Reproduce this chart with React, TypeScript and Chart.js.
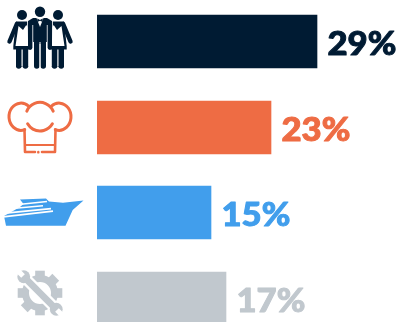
import React, { useEffect, useRef } from "react";
import { Chart, registerables } from "chart.js";

Chart.register(...registerables);

const categories = ["Service staff", "Chefs", "Cruise crew", "Maintenance"];
const shares = [29, 23, 15, 17];
const colors = ["#001B33", "#EE6C44", "#419EEC", "#C1C8CE"];
const suffix = "%";

type C = CanvasRenderingContext2D;

function poly(ctx: C, pts: number[][]) {
  ctx.beginPath();
  pts.forEach((p, i) => (i ? ctx.lineTo(p[0], p[1]) : ctx.moveTo(p[0], p[1])));
  ctx.closePath();
  ctx.fill();
}

function line(ctx: C, a: number[], b: number[], w: number) {
  ctx.lineWidth = w;
  ctx.beginPath();
  ctx.moveTo(a[0], a[1]);
  ctx.lineTo(b[0], b[1]);
  ctx.stroke();
}

function sideFigure(ctx: C, c: string, flip: boolean) {
  ctx.save();
  if (flip) {
    ctx.translate(80, 0);
    ctx.scale(-1, 1);
  }
  ctx.fillStyle = c;
  ctx.strokeStyle = c;
  ctx.lineCap = "round";
  ctx.beginPath();
  ctx.arc(22, 15, 5, 0, Math.PI * 2);
  ctx.fill();
  poly(ctx, [[16, 21.5], [28, 21.5], [31, 47], [31, 49.5], [13.3, 49.5], [13.3, 46]]);
  line(ctx, [16.8, 24], [9.5, 41.5], 4.4);
  ctx.fillRect(16, 47, 5.5, 20);
  ctx.fillRect(22.7, 47, 5.5, 20);
  ctx.beginPath();
  ctx.arc(18.75, 66, 2.75, 0, Math.PI);
  ctx.arc(25.45, 66, 2.75, 0, Math.PI);
  ctx.fill();
  ctx.fillStyle = "#fff";
  poly(ctx, [[18.5, 26], [23, 30], [26.3, 25], [27.5, 27], [28.2, 46], [15.5, 46]]);
  ctx.restore();
}

function people(ctx: C, c: string) {
  sideFigure(ctx, c, false);
  sideFigure(ctx, c, true);
  ctx.fillStyle = "#fff";
  ctx.fillRect(27.2, 17, 25.6, 28);
  ctx.fillStyle = c;
  ctx.strokeStyle = c;
  ctx.lineCap = "round";
  ctx.beginPath();
  ctx.arc(40, 11.7, 5.2, 0, Math.PI * 2);
  ctx.fill();
  ctx.fillRect(33.2, 18, 13.6, 24);
  ctx.fillRect(34, 40, 5.5, 26);
  ctx.fillRect(40.5, 40, 5.5, 26);
  ctx.beginPath();
  ctx.arc(36.75, 66, 2.75, 0, Math.PI);
  ctx.arc(43.25, 66, 2.75, 0, Math.PI);
  ctx.fill();
  line(ctx, [30.2, 23], [30.2, 47.5], 4.4);
  line(ctx, [49.8, 23], [49.8, 47.5], 4.4);
  poly(ctx, [[28, 21], [33, 18], [47, 18], [52, 21], [52, 25], [28, 25]]);
  ctx.fillStyle = "#fff";
  poly(ctx, [[36.5, 18], [43.5, 18], [40, 27]]);
  ctx.fillStyle = c;
  poly(ctx, [[37.3, 18.5], [40, 20], [42.7, 18.5], [42.7, 22], [40, 20.7], [37.3, 22]]);
  ctx.fillStyle = "#fff";
  ctx.fillRect(39.5, 44, 1, 24);
}

function chefHat(ctx: C, c: string) {
  ctx.strokeStyle = c;
  ctx.lineWidth = 3;
  ctx.lineCap = "round";
  ctx.lineJoin = "round";
  const deg = Math.PI / 180;
  const cy = 116.7;
  ctx.beginPath();
  ctx.ellipse(21, cy, 12, 13.6, 0, -50 * deg, 72 * deg, true);
  ctx.stroke();
  ctx.beginPath();
  ctx.ellipse(59, cy, 12, 13.6, 0, 230 * deg, 108 * deg, false);
  ctx.stroke();
  ctx.beginPath();
  ctx.arc(40, cy, 14.3, 203 * deg, 337 * deg);
  ctx.stroke();
  ctx.beginPath();
  ctx.arc(40, cy, 14.3, 30 * deg, 150 * deg);
  ctx.stroke();
  ctx.lineWidth = 2.6;
  ctx.beginPath();
  ctx.moveTo(24.5, 129.5);
  ctx.lineTo(25, 152);
  ctx.lineTo(35, 152);
  ctx.moveTo(55.5, 129.5);
  ctx.lineTo(55, 152);
  ctx.lineTo(42, 152);
  ctx.stroke();
  line(ctx, [26, 145], [54, 145], 2);
  line(ctx, [38.3, 152], [38.3, 152.4], 2.4);
}

function ship(ctx: C, c: string) {
  ctx.fillStyle = c;
  poly(ctx, [
    [4, 216], [13, 211], [20, 207], [23.5, 204], [20, 199.5], [46, 198.5], [49, 201.5],
    [63, 202.7], [83.5, 200.5], [72.7, 210], [65.5, 225.7], [6, 225.7],
  ]);
  ctx.strokeStyle = "#fff";
  ctx.lineCap = "butt";
  line(ctx, [3, 216.8], [53, 211.2], 1.7);
  line(ctx, [8, 212.9], [51, 208.6], 1.6);
  line(ctx, [15, 208.2], [43, 205.8], 1.5);
  line(ctx, [21, 204.3], [47, 201.6], 1.5);
}

function gear(ctx: C, c: string) {
  const cx = 40;
  const cy = 293;
  ctx.save();
  ctx.translate(cx, cy);
  ctx.fillStyle = c;
  ctx.strokeStyle = c;
  for (let i = 0; i < 8; i++) {
    ctx.save();
    ctx.rotate((i * Math.PI) / 4);
    ctx.fillRect(-4.8, -22.3, 9.6, 8);
    ctx.restore();
  }
  ctx.lineCap = "butt";
  ctx.beginPath();
  ctx.arc(0, 0, 14.5, 0, Math.PI * 2);
  ctx.lineWidth = 7;
  ctx.stroke();
  ctx.rotate(Math.PI / 4);
  ctx.fillStyle = "#fff";
  ctx.fillRect(-34, -5.7, 68, 11.4);
  ctx.fillStyle = c;
  ctx.fillRect(-22, -3.3, 44, 6.6);
  [-1, 1].forEach((s) => {
    ctx.fillStyle = c;
    ctx.beginPath();
    ctx.arc(s * 23, 0, 6.4, 0, Math.PI * 2);
    ctx.fill();
    ctx.fillStyle = "#fff";
    ctx.fillRect(s > 0 ? 24 : -34, -2.6, 10, 5.2);
  });
  ctx.restore();
}

const icons = [people, chefHat, ship, gear];
const iconRows = [41.5, 127.5, 212.5, 298.5];

export default function App() {
  const ref = useRef<HTMLCanvasElement>(null);
  useEffect(() => {
    const chart = new Chart(ref.current!, {
      type: "bar",
      data: {
        labels: categories,
        datasets: [{ data: shares, backgroundColor: colors, barThickness: 53, borderWidth: 0 }],
      },
      options: {
        indexAxis: "y",
        animation: false,
        responsive: false,
        layout: { padding: { left: 97, right: 0, top: 1, bottom: 1 } },
        plugins: { legend: { display: false }, tooltip: { enabled: false } },
        scales: {
          x: { display: false, min: 0, max: 40 },
          y: { display: false },
        },
      },
      plugins: [
        {
          id: "snap",
          afterDatasetsUpdate(c: any) {
            c.getDatasetMeta(0).data.forEach((el: any) => {
              el.x = Math.round(el.x);
              el.y = Math.floor(el.y) + 0.5;
            });
          },
        },
        {
          id: "decor",
          afterDatasetsDraw(c: any) {
            const ctx: C = c.ctx;
            c.getDatasetMeta(0).data.forEach((el: any, i: number) => {
              ctx.save();
              ctx.fillStyle = colors[i];
              ctx.strokeStyle = colors[i];
              ctx.lineWidth = 1;
              ctx.lineJoin = "round";
              ctx.font = "900 33px Lato";
              ctx.textBaseline = "alphabetic";
              ctx.textAlign = "left";
              const t = shares[i] + suffix;
              const bearing = -ctx.measureText(t).actualBoundingBoxLeft;
              ctx.translate(el.x + 11.5, el.y + 13.3);
              ctx.scale(1.05, 1);
              ctx.fillText(t, -bearing, 0);
              ctx.strokeText(t, -bearing, 0);
              ctx.restore();
              ctx.save();
              ctx.translate(0, el.y - iconRows[i]);
              icons[i](ctx, colors[i]);
              ctx.restore();
            });
          },
        },
      ],
    } as any);
    return () => chart.destroy();
  }, []);
  return (
    <div style={{ position: "fixed", left: 0, top: 0, width: 400, height: 322, overflow: "hidden", background: "#fff" }}>
      <canvas ref={ref} width={400} height={344} style={{ position: "absolute", left: 0, top: -2, width: 400, height: 344 }} />
    </div>
  );
}
